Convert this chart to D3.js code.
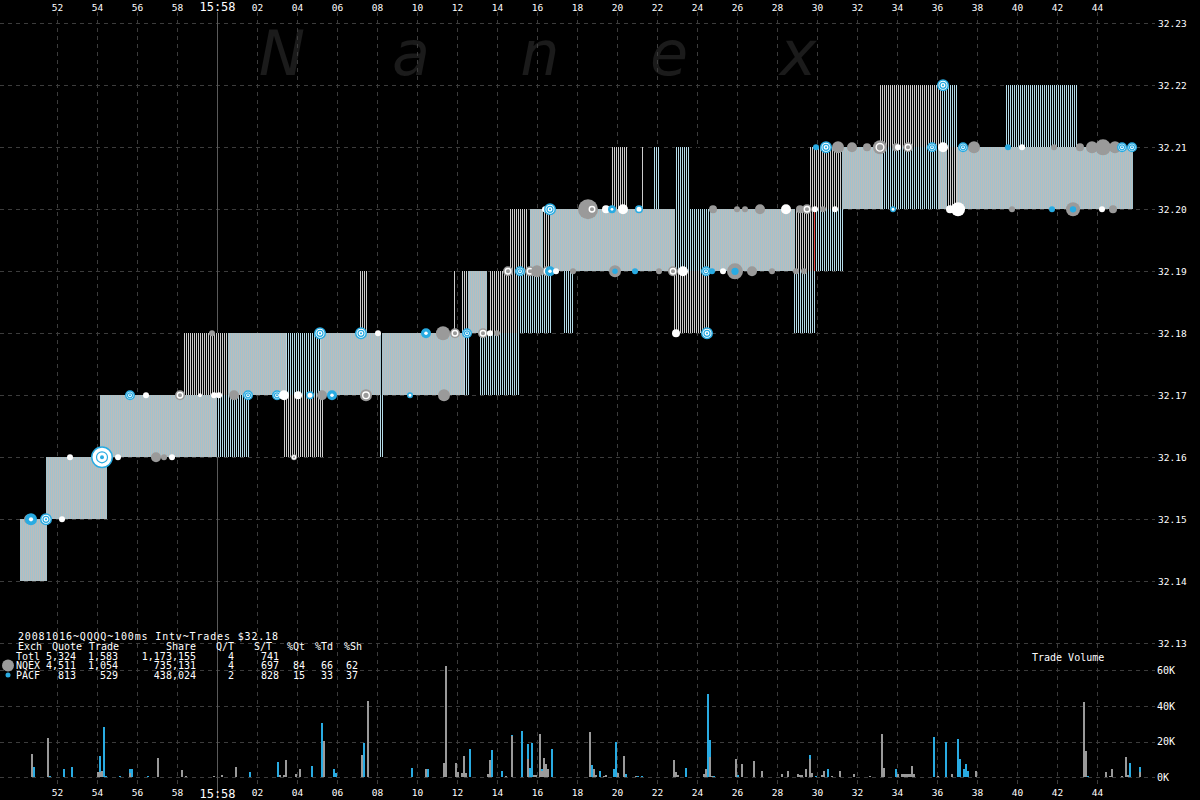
<!DOCTYPE html>
<html><head><meta charset="utf-8">
<script src="https://cdn.jsdelivr.net/npm/d3@7"></script>
<style>html,body{margin:0;padding:0;background:#000;overflow:hidden}</style>
</head><body>
<svg id="chart" width="1200" height="800"></svg>
<script>
// ---------- DATA ----------
// time in seconds after 15:57:00
const timeTicks = [52,54,56,58,60,62,64,66,68,70,72,74,76,78,80,82,84,86,88,90,92,94,96,98,100,102,104];
const timeLabels = ["52","54","56","58","15:58","02","04","06","08","10","12","14","16","18","20","22","24","26","28","30","32","34","36","38","40","42","44"];
const priceTicks = [32.13,32.14,32.15,32.16,32.17,32.18,32.19,32.20,32.21,32.22,32.23];
const volTicks = [0,20000,40000,60000];
const volLabels = ["0K","20K","40K","60K"];

// quote spread segments: [startSec, endSec, bid, ask, style]  d=dense, c=cyan lines, g=gray lines, r=red
const quoteSegments = [
  [50.15,51.5,32.14,32.15,"d"],
  [51.45,54.5,32.15,32.16,"d"],
  [54.15,60.0,32.16,32.17,"d"],
  [60.0,61.65,32.16,32.17,"c"],
  [63.3,65.3,32.16,32.17,"g"],
  [68.1,68.35,32.16,32.17,"c"],
  [58.35,60.55,32.17,32.18,"g"],
  [60.55,63.45,32.17,32.18,"d"],
  [63.45,65.2,32.17,32.18,"c"],
  [65.2,68.2,32.17,32.18,"d"],
  [68.25,72.35,32.17,32.18,"d"],
  [72.35,72.65,32.17,32.18,"c"],
  [73.15,75.15,32.17,32.18,"c"],
  [67.15,67.5,32.18,32.19,"g"],
  [71.85,71.9,32.18,32.19,"g"],
  [72.25,72.55,32.18,32.19,"g"],
  [72.55,73.5,32.18,32.19,"d"],
  [73.65,75.05,32.18,32.19,"g"],
  [75.05,76.75,32.18,32.19,"c"],
  [77.3,77.8,32.18,32.19,"c"],
  [82.8,84.65,32.18,32.19,"g"],
  [88.8,89.95,32.18,32.19,"c"],
  [74.65,75.55,32.19,32.20,"g"],
  [75.65,76.3,32.19,32.20,"d"],
  [76.3,76.65,32.19,32.20,"g"],
  [76.65,82.9,32.19,32.20,"d"],
  [82.9,84.65,32.19,32.20,"c"],
  [84.65,88.9,32.19,32.20,"d"],
  [88.9,89.85,32.19,32.20,"g"],
  [89.85,89.9,32.19,32.20,"r"],
  [89.95,91.3,32.19,32.20,"c"],
  [79.75,80.5,32.20,32.21,"g"],
  [81.25,81.3,32.20,32.21,"g"],
  [81.8,82.15,32.20,32.21,"c"],
  [82.9,83.65,32.20,32.21,"c"],
  [84.0,84.05,32.20,32.21,"c"],
  [89.65,91.25,32.20,32.21,"g"],
  [91.25,93.25,32.20,32.21,"d"],
  [93.25,96.05,32.20,32.21,"c"],
  [96.05,96.5,32.20,32.21,"d"],
  [96.5,97.0,32.20,32.21,"g"],
  [97.0,105.8,32.20,32.21,"d"],
  [93.15,96.25,32.21,32.22,"g"],
  [96.25,97.05,32.21,32.22,"c"],
  [99.4,103.05,32.21,32.22,"c"]
];

// trades: [sec, price, kind, size]
const trades = [
  [50.6,32.15,"g",5],[50.7,32.15,"c",6],[51.45,32.15,"t",6],[52.25,32.15,"w",3],
  [52.65,32.16,"w",3],[54.25,32.16,"t",11],[55.05,32.16,"w",3],[56.95,32.16,"g",5],[57.35,32.16,"g",3],[57.75,32.16,"w",3],[63.85,32.16,"gw",3],
  [55.65,32.17,"t",5],[56.45,32.17,"w",3],[58.15,32.17,"gw",5],[59.15,32.17,"w",2],[59.85,32.17,"w",3],[60.1,32.17,"w",3],
  [60.85,32.17,"g",5],[61.55,32.17,"t",5],[63.0,32.17,"t",5],[63.35,32.17,"w",5],[64.05,32.17,"w",4],[64.65,32.17,"t",4],
  [65.25,32.17,"g",5],[65.75,32.17,"c",5],[67.45,32.17,"gw",6],[69.65,32.17,"t",3],[71.35,32.17,"g",6],
  [59.75,32.18,"g",3],[65.15,32.18,"t",6],[67.2,32.18,"t",6],[68.05,32.18,"w",3],[70.45,32.18,"c",5],[71.3,32.18,"g",7],
  [71.9,32.18,"gw",5],[72.5,32.18,"t",5],[73.3,32.18,"gw",5],[73.65,32.18,"w",3],[74.0,32.18,"g",3],
  [82.95,32.18,"w",4],[84.5,32.18,"t",6],
  [74.55,32.19,"gw",5],[75.15,32.19,"t",5],[75.65,32.19,"gw",5],[76.0,32.19,"g",6],[76.5,32.19,"gw",5],[76.65,32.19,"c",5],
  [76.95,32.19,"w",3],[77.8,32.19,"g",3],[79.9,32.19,"gc",6],[80.9,32.19,"c",3],[82.1,32.19,"g",3],[82.8,32.19,"gw",5],
  [83.3,32.19,"w",5],[84.45,32.19,"t",5],[84.75,32.19,"c",3],[85.3,32.19,"w",3],[85.9,32.19,"gc",8],[86.75,32.19,"g",5],
  [87.75,32.19,"g",3],[88.95,32.19,"g",3],[89.35,32.19,"g",3],
  [76.4,32.20,"w",3],[76.65,32.20,"t",6],[78.55,32.20,"g",10],[78.75,32.20,"gw",5],[79.45,32.20,"w",4],[79.75,32.20,"c",4],
  [80.3,32.20,"w",5],[81.1,32.20,"t",4],[84.8,32.20,"g",4],[86.0,32.20,"g",3],[86.4,32.20,"g",3],[87.15,32.20,"g",5],
  [88.45,32.20,"w",5],[89.15,32.20,"g",4],[89.5,32.20,"gw",5],[89.9,32.20,"w",3],[90.3,32.20,"g",3],[90.9,32.20,"w",3],
  [93.8,32.20,"t",3],[96.65,32.20,"w",4],[97.05,32.20,"w",7],[99.75,32.20,"g",3],[101.75,32.20,"c",3],[102.8,32.20,"gc",7],
  [104.25,32.20,"w",3],[104.8,32.20,"g",4],
  [89.95,32.21,"c",3],[90.45,32.21,"t",6],[91.05,32.21,"g",6],[91.75,32.21,"g",5],[92.5,32.21,"g",4],[93.15,32.21,"gw",7],
  [93.95,32.21,"g",4],[94.05,32.21,"w",3],[94.55,32.21,"gw",5],[95.75,32.21,"t",5],[96.3,32.21,"w",5],[97.3,32.21,"t",5],
  [97.85,32.21,"g",6],[99.55,32.21,"c",3],[100.25,32.21,"w",3],[101.85,32.21,"g",3],[103.15,32.21,"g",4],[103.75,32.21,"g",6],
  [104.3,32.21,"g",8],[104.9,32.21,"g",6],[105.25,32.21,"t",5],[105.75,32.21,"t",5],
  [96.3,32.22,"t",6]
];

// trade volume per 100ms interval: [sec, NQEX shares, PACF shares]
const volumeBars = [
  [50.7,13000,0],[50.8,0,5800],[51.5,22000,0],[51.6,0,700],[52.3,0,4900],[52.7,0,5800],
  [54.0,3000,0],[54.1,3000,9000],[54.2,3500,0],[54.3,0,28000],[54.4,0,500],[55.1,0,800],
  [55.6,2500,2200],[55.7,0,4700],[56.2,400,0],[56.5,0,800],[57.0,10800,0],[57.4,300,0],[57.8,300,0],
  [58.2,4100,0],[58.4,800,0],[59.2,300,0],[59.8,750,0],[59.9,400,0],[60.2,1300,0],[60.3,400,0],
  [60.9,5800,0],[61.6,0,3000],[61.8,300,0],[63.0,0,8600],[63.1,1300,0],[63.3,1300,0],[63.4,9700,0],
  [63.9,1900,0],[64.1,4700,0],[64.7,0,6400],[65.2,0,30500],[65.3,20400,0],[65.8,0,4700],[65.9,0,2400],
  [67.2,12500,0],[67.3,0,19300],[67.4,300,0],[67.5,42800,0],[68.1,300,0],[69.7,0,5200],
  [70.4,4700,0],[70.5,0,4700],[71.3,8000,0],[71.4,62600,0],[71.9,8000,0],[72.0,3000,0],[72.2,2400,0],
  [72.3,12000,0],[72.4,2400,0],[72.6,0,15900],[73.5,1900,0],[73.6,9700,0],[73.7,0,15300],[74.2,0,3500],
  [74.4,750,0],[74.7,23000,700],[74.9,400,0],[75.1,400,0],[75.2,0,26000],[75.3,400,0],[75.5,10300,8400],
  [75.6,0,5000],[75.7,0,19300],[75.8,1300,0],[75.9,1300,0],[76.1,24300,0],[76.2,3500,1200],[76.3,10800,0],
  [76.4,7500,0],[76.5,4700,0],[76.7,0,15900],[77.0,300,0],[77.9,300,0],
  [78.6,25400,0],[78.7,0,6900],[78.8,4700,0],[78.9,1300,0],[79.1,0,3500],[79.3,750,0],[79.4,1300,0],
  [79.8,0,4700],[79.9,0,19800],[80.0,2400,0],[80.3,12000,0],[80.4,0,1900],[80.9,500,0],[81.0,0,500],
  [81.2,0,500],[82.2,300,0],[82.8,9700,0],[82.9,3000,0],[83.0,1300,0],[83.4,0,5200],[84.3,1900,0],
  [84.4,4700,0],[84.5,0,46800],[84.6,11400,9600],[84.7,800,0],[84.8,0,800],[85.4,0,300],[85.9,10300,0],
  [86.0,0,1300],[86.2,7500,0],[86.5,300,0],[86.8,9200,0],[87.2,3500,0],[87.8,300,0],[88.2,1900,0],
  [88.5,3500,0],[89.0,1900,0],[89.1,1300,0],[89.2,1300,0],[89.4,4700,0],[89.6,10300,2200],[89.7,2400,0],
  [89.9,0,500],[90.2,1300,0],[90.3,3500,0],[90.5,0,4700],[90.7,500,0],[91.1,3500,0],[91.8,1900,0],
  [92.6,500,0],[93.2,24300,0],[93.3,5200,0],[93.5,300,0],[93.9,0,4700],[94.0,1900,0],
  [94.2,1900,0],[94.3,1900,0],[94.4,1900,0],[94.5,1900,0],[94.6,1900,0],[94.7,6400,0],[94.8,1900,0],
  [95.8,0,22600],[96.0,800,0],[96.2,400,0],[96.4,0,19800],[96.7,1900,0],[97.0,0,21500],[97.1,0,10300],
  [97.3,0,4700],[97.4,0,7500],[97.5,0,3500],[97.9,3500,0],[99.6,0,300],[100.3,0,300],[101.8,0,300],
  [101.9,0,300],[103.3,42300,0],[103.4,14800,0],[103.5,0,800],[104.4,3000,0],[104.6,800,0],[104.7,4700,0],
  [105.2,800,0],[105.4,11400,0],[105.5,1300,0],[105.6,0,8000],[106.1,3000,2800]
];

const legendTitle = "20081016~QQQQ~100ms Intv~Trades $32.18";
const legendHeader = ["Exch","Quote","Trade","Share","Q/T","S/T","%Qt","%Td","%Sh"];
const legendRows = [
  ["Totl","5,324","1,583","1,173,155","4","741","","",""],
  ["NQEX","4,511","1,054","735,131","4","697","84","66","62"],
  ["PACF","813","529","438,024","2","828","15","33","37"]
];
const watermark = ["N","a","n","e","x"];

// ---------- DRAW ----------
const svg = d3.select("#chart");
const W = 1200, H = 800;
svg.append("rect").attr("width",W).attr("height",H).attr("fill","#000");

const x = d3.scaleLinear().domain([52,104]).range([57,1097]);
const y = d3.scaleLinear().domain([32.13,32.23]).range([643.3,23.3]);
const v = d3.scaleLinear().domain([0,60000]).range([777.3,670.3]);

const CYAN = "#29abe2", GRAY = "#9a9a9a";
const mono = "'DejaVu Sans Mono', 'Liberation Mono', monospace";

// patterns (1px lines every 100ms = 2px)
const defs = svg.append("defs");
function pat(id, colA, colB){
  const p = defs.append("pattern").attr("id",id).attr("patternUnits","userSpaceOnUse")
    .attr("width",2).attr("height",8).attr("x",0).attr("y",0);
  p.append("rect").attr("x",0).attr("y",0).attr("width",1).attr("height",8).attr("fill",colA).attr("shape-rendering","crispEdges");
  p.append("rect").attr("x",1).attr("y",0).attr("width",1).attr("height",8).attr("fill",colB).attr("shape-rendering","crispEdges");
}
pat("pd","#a2c2cc","#bcbcbc");
pat("pc","#b4dbe8","#000");
pat("pg","#cccccc","#000");
const fills = {d:"url(#pd)", c:"url(#pc)", g:"url(#pg)", r:"#e8504a"};

// watermark
const wmX = d3.scalePoint().domain(d3.range(watermark.length)).range([282,798]);
svg.append("g").selectAll("text").data(watermark).join("text")
  .attr("x",(d,i)=>wmX(i)).attr("y",75).attr("text-anchor","middle")
  .attr("font-family","'DejaVu Sans', sans-serif").attr("font-style","italic")
  .attr("font-size",62).attr("fill","#1b1b1b").text(d=>d);

// grid
const grid = svg.append("g").attr("stroke","#3c3c3c").attr("stroke-dasharray","4,4").attr("stroke-width",1);
grid.selectAll(".vg").data(timeTicks).join("line")
  .attr("x1",d=>Math.round(x(d))+0.5).attr("x2",d=>Math.round(x(d))+0.5)
  .attr("y1",12).attr("y2",784);
grid.selectAll(".hg").data(priceTicks).join("line")
  .attr("x1",0).attr("x2",1155).attr("y1",d=>Math.round(y(d))+0.5).attr("y2",d=>Math.round(y(d))+0.5);
grid.selectAll(".hv").data(volTicks).join("line")
  .attr("x1",0).attr("x2",1155).attr("y1",d=>Math.round(v(d))+0.5).attr("y2",d=>Math.round(v(d))+0.5);

// 15:58 solid line
svg.append("line").attr("x1",Math.round(x(60))+0.5).attr("x2",Math.round(x(60))+0.5)
  .attr("y1",12).attr("y2",798).attr("stroke","#5a5a5a").attr("stroke-width",1);

// quote bands
svg.append("g").attr("shape-rendering","crispEdges").selectAll("rect").data(quoteSegments).join("rect")
  .attr("x",d=>Math.round(x(d[0])))
  .attr("width",d=>Math.max(1,Math.round(x(d[1]))-Math.round(x(d[0]))))
  .attr("y",d=>Math.round(y(d[3])))
  .attr("height",d=>Math.round(y(d[2]))-Math.round(y(d[3])))
  .attr("fill",d=>fills[d[4]]);

// trades
const tg = svg.append("g");
trades.forEach(d=>{
  const cx = x(d[0]), cy = y(d[1]), r = d[3], k = d[2];
  if(k==="g"){
    tg.append("circle").attr("cx",cx).attr("cy",cy).attr("r",r).attr("fill",GRAY);
  } else if(k==="c"){
    tg.append("circle").attr("cx",cx).attr("cy",cy).attr("r",r).attr("fill",CYAN);
    if(r>=4) tg.append("circle").attr("cx",cx).attr("cy",cy).attr("r",r*0.35).attr("fill","#fff");
  } else if(k==="w"){
    tg.append("circle").attr("cx",cx).attr("cy",cy).attr("r",r).attr("fill","#fff");
  } else if(k==="t"){
    tg.append("circle").attr("cx",cx).attr("cy",cy).attr("r",r-0.75).attr("fill","#fff")
      .attr("stroke",CYAN).attr("stroke-width",1.5);
    if(r>=5){
      tg.append("circle").attr("cx",cx).attr("cy",cy).attr("r",r*0.5).attr("fill","none")
        .attr("stroke",CYAN).attr("stroke-width",1.2);
      tg.append("circle").attr("cx",cx).attr("cy",cy).attr("r",Math.max(1,r*0.18)).attr("fill",CYAN);
    }
  } else if(k==="gw"){
    tg.append("circle").attr("cx",cx).attr("cy",cy).attr("r",r).attr("fill",GRAY);
    tg.append("circle").attr("cx",cx).attr("cy",cy).attr("r",r*0.55).attr("fill","none")
      .attr("stroke","#fff").attr("stroke-width",1.4);
  } else if(k==="gc"){
    tg.append("circle").attr("cx",cx).attr("cy",cy).attr("r",r).attr("fill",GRAY);
    tg.append("circle").attr("cx",cx).attr("cy",cy).attr("r",r*0.45).attr("fill",CYAN);
  }
});

// volume bars
const vb = svg.append("g").attr("shape-rendering","crispEdges");
vb.selectAll(".nq").data(volumeBars.filter(d=>d[1]>0)).join("rect")
  .attr("x",d=>Math.round(x(d[0]))).attr("width",2)
  .attr("y",d=>v(d[1])).attr("height",d=>v(0)-v(d[1])).attr("fill",GRAY);
vb.selectAll(".pa").data(volumeBars.filter(d=>d[2]>0)).join("rect")
  .attr("x",d=>Math.round(x(d[0]))).attr("width",2)
  .attr("y",d=>v(d[1]+d[2])).attr("height",d=>v(d[1])-v(d[1]+d[2])).attr("fill",CYAN);

// axes labels (top & bottom)
const xAxisTop = d3.axisTop(x).tickValues(timeTicks).tickFormat((d,i)=>timeLabels[i]).tickSize(0);
const xAxisBot = d3.axisBottom(x).tickValues(timeTicks).tickFormat((d,i)=>timeLabels[i]).tickSize(0);
function styleAxis(g){
  g.select(".domain").remove();
  g.selectAll("text").attr("fill","#fff").attr("font-family",mono)
    .attr("font-size",d=>d===60?12:9.5);
}
svg.append("g").attr("transform","translate(0,14)").call(xAxisTop).call(styleAxis)
  .selectAll("text").attr("dy","0");
svg.append("g").attr("transform","translate(0,786)").call(xAxisBot).call(styleAxis)
  .selectAll("text").attr("dy","0.71em");

// right price axis
const yAxis = d3.axisRight(y).tickValues(priceTicks).tickFormat(d3.format(".2f")).tickSize(0);
svg.append("g").attr("transform","translate(1158,0)").call(yAxis).call(g=>{
  g.select(".domain").remove();
  g.selectAll("text").attr("x",0).attr("fill","#fff").attr("font-family",mono).attr("font-size",9.5);
});
const vAxis = d3.axisRight(v).tickValues(volTicks).tickFormat((d,i)=>volLabels[i]).tickSize(0);
svg.append("g").attr("transform","translate(1157,0)").call(vAxis).call(g=>{
  g.select(".domain").remove();
  g.selectAll("text").attr("x",0).attr("fill","#fff").attr("font-family",mono).attr("font-size",10);
});
svg.append("text").attr("x",1032).attr("y",661).attr("fill","#fff").attr("font-family",mono)
  .attr("font-size",10).text("Trade Volume");

// legend
const lg = svg.append("g").attr("font-family",mono).attr("font-size",10).attr("fill","#fff");
lg.append("text").attr("x",18).attr("y",639.5).attr("textLength",260).attr("lengthAdjust","spacing").text(legendTitle);
const hdrPos = [[18,"start"],[52,"start"],[89,"start"],[196,"end"],[234,"end"],[272,"end"],[305,"end"],[333,"end"],[362,"end"]];
const colPos = [[16,"start"],[76,"end"],[118,"end"],[196,"end"],[234,"end"],[279,"end"],[305,"end"],[333,"end"],[358,"end"]];
legendHeader.forEach((h,i)=>{
  lg.append("text").attr("x",hdrPos[i][0]).attr("y",650).attr("text-anchor",hdrPos[i][1]).text(h);
});
const rowY = [659.5,669,678.5];
legendRows.forEach((row,r)=>{
  row.forEach((c,i)=>{
    if(c==="") return;
    lg.append("text").attr("x",colPos[i][0]).attr("y",rowY[r]).attr("text-anchor",colPos[i][1]).text(c);
  });
});
svg.append("circle").attr("cx",8).attr("cy",665.5).attr("r",6).attr("fill",GRAY);
svg.append("circle").attr("cx",8).attr("cy",675).attr("r",2.5).attr("fill",CYAN);
</script>
</body></html>
